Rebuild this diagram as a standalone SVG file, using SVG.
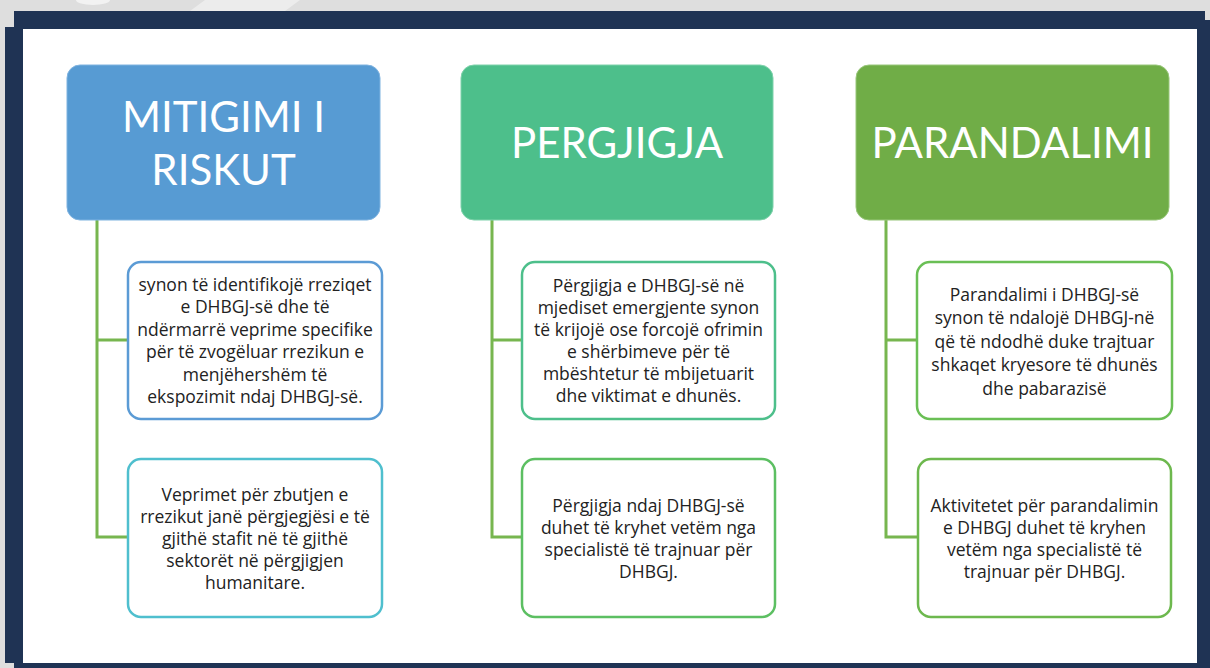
<svg xmlns="http://www.w3.org/2000/svg" width="1210" height="668" viewBox="0 0 1210 668">
<style>
.hdr{font-family:Lato,"Open Sans","Liberation Sans",sans-serif;font-size:42px;fill:#ffffff;text-anchor:middle}
.txt{font-family:"Open Sans",Lato,"Liberation Sans",sans-serif;font-size:17.5px;fill:#222222;text-anchor:middle}
.box{fill:#ffffff;stroke-width:2.5}
.conn{fill:none;stroke:#77b64f;stroke-width:3}
</style>
<rect x="0" y="0" width="1210" height="668" fill="#dedede"/>
<polygon points="205,0 300,0 285,11 190,11" fill="#ececec"/>
<ellipse cx="93" cy="0" rx="17" ry="5" fill="#f2f2f2"/>
<g id="frame" fill="#1f3354">
<rect x="14" y="11" width="1191" height="18"/>
<rect x="5" y="27" width="18" height="636"/>
<rect x="1197" y="20" width="13" height="648"/>
<rect x="14" y="663" width="1196" height="5"/>
</g>
<rect x="23" y="29" width="1174" height="634" fill="#ffffff"/>
<g id="connectors">
<path class="conn" d="M97,220 V537 H128 M97,340 H128"/>
<path class="conn" d="M492,220 V537 H522 M492,340 H522"/>
<path class="conn" d="M886,220 V537 H918 M886,340 H917"/>
</g>
<g id="h1">
<rect x="67" y="65" width="313" height="155" rx="13" fill="#579bd3" stroke="#7fb3e0" stroke-width="1"/>
<text class="hdr" x="223.5" y="132">MITIGIMI I</text>
<text class="hdr" x="223.5" y="185">RISKUT</text>
</g>
<g id="h2">
<rect x="461" y="65" width="312" height="155" rx="13" fill="#4dbf8b" stroke="#7fd2ab" stroke-width="1"/>
<text class="hdr" x="617" y="158">PERGJIGJA</text>
</g>
<g id="h3">
<rect x="856" y="65" width="313" height="155" rx="13" fill="#70ad47" stroke="#98c67a" stroke-width="1"/>
<text class="hdr" x="1012.5" y="158">PARANDALIMI</text>
</g>
<g id="b1a">
<rect class="box" x="128" y="262" width="254" height="157" rx="13" stroke="#5b9bd5"/>
<text class="txt" x="255" y="291">synon të identifikojë rreziqet</text>
<text class="txt" x="255" y="313.4">e DHBGJ-së dhe të</text>
<text class="txt" x="255" y="335.8">ndërmarrë veprime specifike</text>
<text class="txt" x="255" y="358.2">për të zvogëluar rrezikun e</text>
<text class="txt" x="255" y="380.6">menjëhershëm të</text>
<text class="txt" x="255" y="403">ekspozimit ndaj DHBGJ-së.</text>
</g>
<g id="b1b">
<rect class="box" x="128" y="459" width="254" height="158" rx="13" stroke="#4fbfce"/>
<text class="txt" x="255" y="501">Veprimet për zbutjen e</text>
<text class="txt" x="255" y="523">rrezikut janë përgjegjësi e të</text>
<text class="txt" x="255" y="545">gjithë stafit në të gjithë</text>
<text class="txt" x="255" y="567">sektorët në përgjigjen</text>
<text class="txt" x="255" y="589">humanitare.</text>
</g>
<g id="b2a">
<rect class="box" x="522" y="262" width="253" height="157" rx="13" stroke="#4dbf8b"/>
<text class="txt" x="648.5" y="292">Përgjigja e DHBGJ-së në</text>
<text class="txt" x="648.5" y="314">mjediset emergjente synon</text>
<text class="txt" x="648.5" y="336">të krijojë ose forcojë ofrimin</text>
<text class="txt" x="648.5" y="358">e shërbimeve për të</text>
<text class="txt" x="648.5" y="380">mbështetur të mbijetuarit</text>
<text class="txt" x="648.5" y="402">dhe viktimat e dhunës.</text>
</g>
<g id="b2b">
<rect class="box" x="522" y="459" width="253" height="158" rx="13" stroke="#5cbf62"/>
<text class="txt" x="648.5" y="512">Përgjigja ndaj DHBGJ-së</text>
<text class="txt" x="648.5" y="534">duhet të kryhet vetëm nga</text>
<text class="txt" x="648.5" y="556">specialistë të trajnuar për</text>
<text class="txt" x="648.5" y="578">DHBGJ.</text>
</g>
<g id="b3a">
<rect class="box" x="917" y="262" width="255" height="157" rx="13" stroke="#6abf55"/>
<text class="txt" x="1044.5" y="301">Parandalimi i DHBGJ-së</text>
<text class="txt" x="1044.5" y="324.4">synon të ndalojë DHBGJ-në</text>
<text class="txt" x="1044.5" y="347.8">që të ndodhë duke trajtuar</text>
<text class="txt" x="1044.5" y="371.2">shkaqet kryesore të dhunës</text>
<text class="txt" x="1044.5" y="394.6">dhe pabarazisë</text>
</g>
<g id="b3b">
<rect class="box" x="918" y="459" width="253" height="158" rx="13" stroke="#6db84e"/>
<text class="txt" x="1044.5" y="512">Aktivitetet për parandalimin</text>
<text class="txt" x="1044.5" y="534">e DHBGJ duhet të kryhen</text>
<text class="txt" x="1044.5" y="556">vetëm nga specialistë të</text>
<text class="txt" x="1044.5" y="578">trajnuar për DHBGJ.</text>
</g>
</svg>
